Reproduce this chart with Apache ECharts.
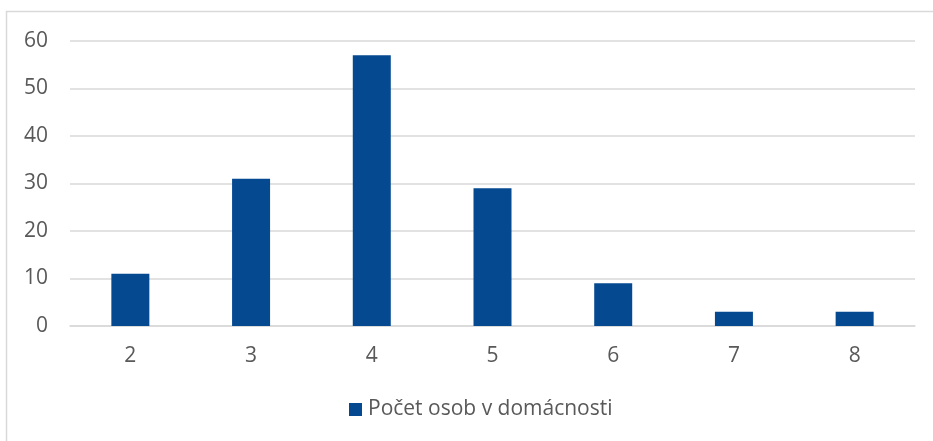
<!DOCTYPE html>
<html>
<head>
<meta charset="utf-8">
<script src="https://cdn.jsdelivr.net/npm/echarts@6/dist/echarts.min.js"></script>
<style>
  html, body { margin: 0; padding: 0; background: #fff; }
  #chart { width: 933px; height: 441px; }
</style>
</head>
<body>
<div id="chart"></div>
<script>
const categories = ['2', '3', '4', '5', '6', '7', '8']
const counts = [11, 31, 57, 29, 9, 3, 3]
const seriesName = 'Počet osob v domácnosti'

const chart = echarts.init(document.getElementById('chart'))

chart.setOption({
  animation: false,
  textStyle: { fontFamily: 'Open Sans', color: '#595959' },
  graphic: [{
    type: 'rect',
    silent: true,
    shape: { x: 6.5, y: 11.5, width: 940, height: 440 },
    style: { fill: 'none', stroke: '#d9d9d9', lineWidth: 1.5 }
  }],
  grid: { left: 70, right: 18, top: 41, bottom: 115, containLabel: false },
  legend: {
    top: 399,
    left: 349,
    padding: 0,
    itemWidth: 13,
    itemHeight: 13,
    icon: 'rect',
    textStyle: { fontSize: 21, color: '#595959', fontFamily: 'Open Sans', padding: [0, 0, 0, 1] }
  },
  xAxis: {
    type: 'category',
    data: categories,
    axisLine: { show: true, lineStyle: { color: '#d9d9d9', width: 1.5 } },
    axisTick: { show: false },
    axisLabel: { fontSize: 21, color: '#595959', margin: 20 }
  },
  yAxis: {
    type: 'value',
    min: 0,
    max: 60,
    interval: 10,
    axisLine: { show: false },
    axisTick: { show: false },
    axisLabel: { fontSize: 21, color: '#595959', margin: 22 },
    splitLine: { lineStyle: { color: '#d9d9d9', width: 1.5 } }
  },
  series: [{
    name: seriesName,
    type: 'bar',
    data: counts,
    barWidth: 38,
    itemStyle: { color: '#054A91' }
  }]
})
</script>
</body>
</html>
